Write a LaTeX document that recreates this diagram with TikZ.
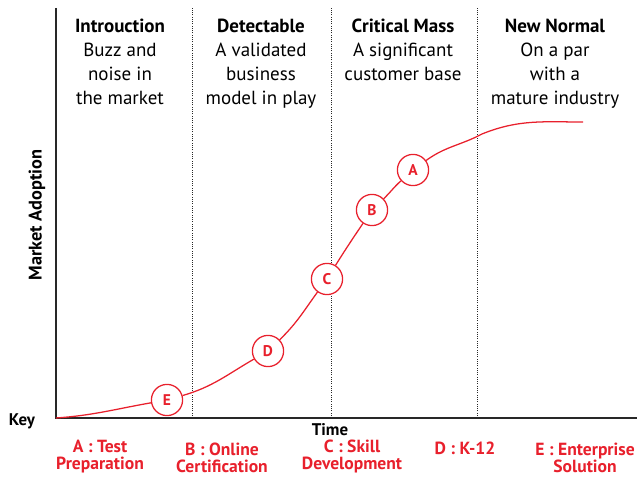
\documentclass[tikz,border=0pt]{standalone}
\usepackage{fontspec}
\setmainfont{PT Sans}
\definecolor{keyred}{RGB}{232,32,44}
\definecolor{axisgray}{RGB}{40,40,40}
\begin{document}
\begin{tikzpicture}[x=0.025cm,y=0.025cm,
  phase/.style={font=\fontsize{13.5}{17}\selectfont, align=center, anchor=north, inner sep=0pt},
  stage/.style={circle, draw=keyred, fill=white, line width=0.9pt, minimum size=0.78cm,
    inner sep=0pt, text=keyred, font=\fontsize{11}{11}\selectfont\bfseries},
  keylabel/.style={text=keyred, font=\fontsize{12.5}{12}\selectfont\bfseries, align=center,
    anchor=south, inner sep=0pt},
  divider/.style={axisgray, densely dotted, line width=0.6pt},
  curve/.style={keyred, line width=0.9pt}]
\useasboundingbox (0,0) rectangle (640,478);
% axes
\coordinate (O) at (56,60);
\coordinate (ytop) at (56,470);
\coordinate (xend) at (637,60);
\draw [axisgray, line width=1pt] (ytop) -- (O) -- (xend);
% phase dividers
\foreach \x/\n in {192/one,331/two,477/three} {
  \coordinate (\n-b) at (\x,60);
  \coordinate (\n-t) at (\x,470);
  \draw [divider] (\n-b) -- (\n-t);
}
% phase headings
\node [phase] (intro) at (120,459) {\textbf{Introuction}\\Buzz and\\noise in\\the market};
\node [phase] (detect) at (261,459) {\textbf{Detectable}\\A validated\\business\\model in play};
\node [phase] (critical) at (403,459) {\textbf{Critical Mass}\\A significant\\customer base};
\node [phase] (normal) at (555,459) {\textbf{New Normal}\\On a par\\with a\\mature industry};
% axis labels
\node [rotate=90, font=\fontsize{13}{13}\selectfont\bfseries] (ylab) at (37,263) {Market Adoption};
\node [font=\fontsize{12}{12}\selectfont\bfseries] (time) at (330,48) {Time};
\node [font=\fontsize{12}{12}\selectfont\bfseries] (key) at (22,57) {Key};
% stages on the curve
\node [stage] (E) at (167,78) {E};
\node [stage] (D) at (268,127) {D};
\node [stage] (C) at (327,199) {C};
\node [stage] (B) at (372,268) {B};
\node [stage] (A) at (413,308) {A};
\coordinate (bend) at (482,344);
\coordinate (top) at (583,356);
\draw [curve] (O) to[out=4,in=190] (E);
\draw [curve] (E) to[out=16,in=210] (D);
\draw [curve] (D) to[out=44,in=234] (C);
\draw [curve] (C) to[out=58,in=236] (B);
\draw [curve] (B) to[out=44,in=222] (A);
\draw [curve] (A) to[out=36,in=208] (bend) to[out=22,in=180] (top);
% key
\node [keylabel] (keyA) at (100,5) {A : Test\\Preparation};
\node [keylabel] (keyB) at (222,5) {B : Online\\Certification};
\node [keylabel] (keyC) at (352,5) {C : Skill\\Development};
\node [keylabel, anchor=base] (keyD) at (465,23) {D : K-12};
\node [keylabel] (keyE) at (585,5) {E : Enterprise\\Solution};
\end{tikzpicture}
\end{document}
